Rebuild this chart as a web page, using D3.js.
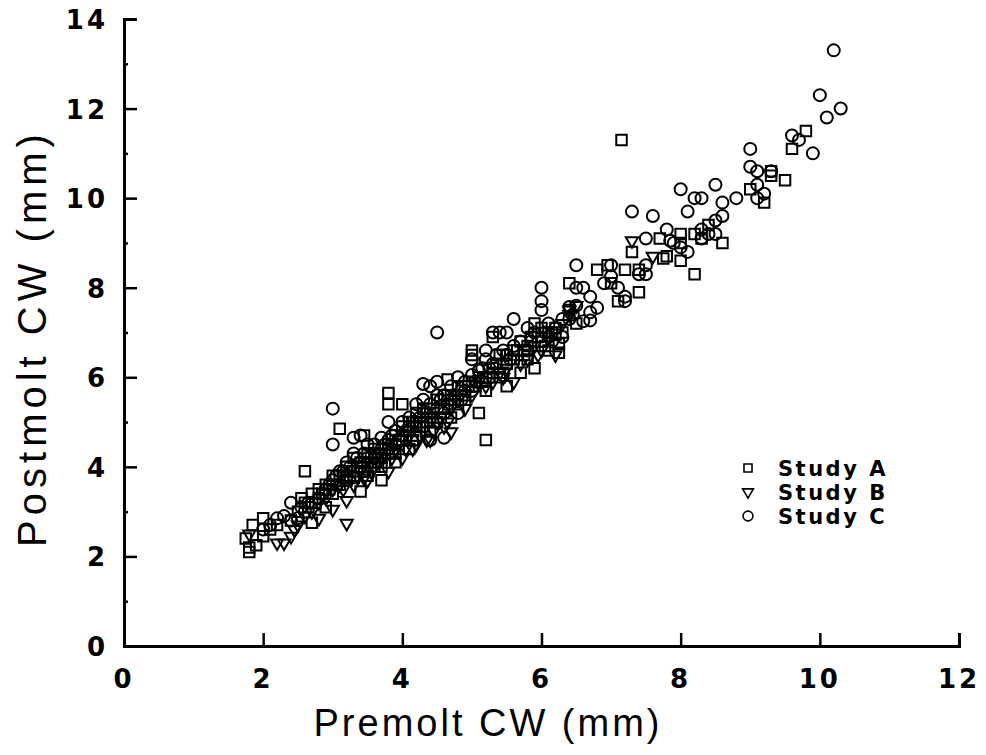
<!DOCTYPE html>
<html>
<head>
<meta charset="utf-8">
<script src="https://cdn.jsdelivr.net/npm/d3@7"></script>
<style>
  body { margin: 0; background: #fff; }
  svg text { font-family: "Liberation Sans", Arial, sans-serif; fill: #000; }
  svg text.bold { font-family: "DejaVu Sans", sans-serif; font-weight: bold; }
</style>
</head>
<body>
<svg id="chart" width="986" height="755"></svg>
<script>
// premolt / postmolt carapace width
var studyA = [[1.8,2.1],[1.8,2.2],[1.75,2.4],[1.85,2.7],[1.9,2.25],[2.0,2.45],[2.0,2.85],[2.1,2.6],[2.2,2.7],[2.4,2.8],
  [2.5,3.0],[2.6,3.9],[2.6,3.2],[2.7,2.75],[2.7,3.4],[2.8,3.3],[2.8,3.5],[2.9,3.1],[2.9,3.6],[3.0,3.4],[3.0,3.8],[3.1,4.85],
  [3.1,3.6],[3.2,4.0],[3.2,3.7],[3.3,4.2],[3.3,3.9],[3.4,3.45],[3.4,4.1],[3.45,4.7],[3.5,3.8],[3.5,4.3],[3.6,4.0],[3.6,4.4],
  [3.7,3.7],[3.7,4.2],[3.8,5.65],[3.8,5.4],[3.8,4.5],[3.9,4.3],[3.9,4.7],[4.0,5.4],[4.0,4.6],[4.0,4.9],[4.1,4.4],[4.1,5.0],
  [4.2,4.7],[4.2,5.2],[4.3,4.9],[4.3,5.3],[4.4,5.1],[4.4,4.8],[4.5,5.5],[4.5,5.0],[4.6,5.3],[4.65,5.95],[4.7,5.6],[4.7,5.1],
  [4.8,5.4],[4.8,5.8],[4.9,5.6],[5.0,6.6],[5.0,6.5],[5.0,5.9],[5.1,5.2],[5.1,6.0],[5.2,4.6],[5.2,5.7],[5.3,6.9],[5.3,6.2],
  [5.4,6.0],[5.4,6.5],[5.5,6.3],[5.5,5.8],[5.6,6.6],[5.7,6.1],[5.7,6.8],[5.8,6.4],[5.9,7.2],[5.9,6.2],[6.0,6.8],[6.0,7.1],
  [6.1,6.6],[6.2,7.1],[6.2,6.95],[6.25,6.75],[6.25,6.55],[6.4,8.1],[6.4,7.5],[6.5,7.2],[6.8,8.4],[6.95,8.5],[7.0,8.1],
  [7.1,7.7],[7.15,11.3],[7.2,8.4],[7.3,8.8],[7.4,7.9],[7.4,8.4],[7.7,9.1],[7.75,8.65],[7.8,8.7],[8.0,9.2],[8.0,9.0],[8.0,8.6],
  [8.2,9.2],[8.2,8.3],[8.4,9.4],[8.3,9.1],[8.6,9.0],[9.0,10.2],[9.2,9.9],[9.3,10.5],[9.3,10.6],[9.5,10.4],[9.6,11.1],[9.8,11.5],
  [3.1,3.8],[3.2,3.9],[3.3,3.75],[3.4,4.0],[3.5,4.1],[3.6,4.3],[3.7,4.0],[3.75,4.4],[3.85,4.5],[3.9,4.1],[4.05,4.7],[4.15,4.6],
  [4.25,4.9],[4.35,5.0],[4.45,5.2],[4.55,5.1],[4.9,5.5],[5.05,5.8],[5.25,6.0],[5.35,6.3],[5.45,6.1],[5.6,6.4],[5.75,6.5],
  [5.85,6.9],[6.05,6.7],[6.15,7.0],
  [2.55,3.3],[2.65,3.1],[2.75,3.2],[2.85,3.4],[2.95,3.5],[3.05,3.6],[3.15,3.75],[3.25,3.8],[3.35,4.0],[3.45,3.9],[3.55,4.2],
  [3.65,4.1],[3.8,4.3],[3.95,4.6],[4.1,4.8],[4.2,4.9],[4.3,5.0],[4.4,5.3],[4.6,5.6],[4.75,5.5],[4.85,5.7],[4.95,5.8],[5.15,5.9],
  [5.3,6.1],[5.5,6.5],[5.65,6.6],[5.8,6.7],[5.95,6.9],[6.1,7.0],[6.3,7.0]];

var studyB = [[1.8,2.5],[2.2,2.3],[2.3,2.3],[2.4,2.45],[2.5,2.7],[2.6,2.9],[2.8,2.85],[2.8,3.2],[3.0,3.05],[3.0,3.5],
  [3.2,3.25],[3.2,2.74],[3.3,3.6],[3.4,3.9],[3.5,3.7],[3.6,4.0],[3.7,4.2],[3.8,3.9],[3.9,4.4],[4.0,4.2],[4.1,4.7],[4.2,4.5],
  [4.3,4.8],[4.4,4.6],[4.5,5.0],[4.6,4.9],[4.7,4.78],[4.7,5.3],[4.8,5.5],[5.0,5.6],[5.1,5.9],[5.3,5.9],[5.5,6.2],[5.6,5.9],
  [5.8,6.4],[5.9,6.7],[6.1,6.9],[6.2,6.5],[6.4,7.4],[6.4,7.5],[6.5,7.6],[7.3,9.05],[7.6,8.7],
  [3.1,3.6],[3.35,3.8],[3.55,3.9],[3.65,4.1],[3.75,4.3],[3.95,4.5],[4.15,4.4],[4.25,4.7],[4.45,4.8],[4.55,5.1],[5.4,6.1],
  [5.7,6.3],[6.0,6.6],
  [2.45,2.6],[2.7,3.0],[2.9,3.3],[3.15,3.5],[3.45,3.75],[3.85,4.2],[4.05,4.4],[4.35,4.6],[4.65,5.0],[4.9,5.3],[5.2,5.8],
  [5.45,6.0],[5.95,6.5],[6.3,7.2]];

var studyC = [[2.0,2.6],[2.1,2.7],[2.2,2.85],[2.3,2.9],[2.4,2.8],[2.4,3.2],[2.5,2.85],[2.6,3.0],[2.7,3.2],[2.8,3.3],
  [2.9,3.5],[3.0,5.3],[3.0,4.5],[3.0,3.7],[3.1,3.9],[3.2,4.1],[3.3,4.65],[3.3,4.3],[3.4,4.7],[3.4,4.0],[3.5,4.5],[3.6,4.2],
  [3.7,4.65],[3.7,4.4],[3.8,5.0],[3.8,4.6],[3.9,4.8],[4.0,5.0],[4.1,5.1],[4.2,5.4],[4.3,5.85],[4.3,5.5],[4.4,5.8],[4.4,4.6],
  [4.5,7.0],[4.5,5.9],[4.5,5.3],[4.6,4.65],[4.6,5.6],[4.7,5.8],[4.8,6.0],[4.8,5.2],[4.9,5.7],[5.0,6.05],[5.0,6.4],[5.1,6.15],
  [5.2,6.6],[5.2,6.4],[5.3,7.0],[5.3,6.3],[5.4,7.0],[5.5,7.0],[5.5,6.5],[5.6,7.3],[5.6,6.7],[5.8,7.1],[5.8,6.6],[6.0,8.0],
  [6.0,7.7],[6.0,7.5],[6.1,7.2],[6.1,6.9],[6.3,6.9],[6.4,7.57],[6.4,7.3],[6.45,7.4],[6.5,8.5],[6.5,8.0],[6.5,7.6],[6.6,8.0],
  [6.6,7.25],[6.7,7.8],[6.7,7.45],[6.7,7.27],[6.8,7.55],[6.9,8.1],[7.0,8.5],[7.0,8.25],[7.1,8.0],[7.2,7.8],[7.2,7.7],[7.3,9.7],
  [7.4,8.3],[7.5,8.3],[7.5,9.1],[7.5,8.5],[7.6,9.6],[7.8,9.3],[7.85,9.05],[7.9,9.0],[8.0,10.2],[8.0,8.9],[8.1,9.7],[8.1,8.8],
  [8.2,10.0],[8.3,10.0],[8.3,9.3],[8.3,9.1],[8.4,9.2],[8.5,10.3],[8.5,9.5],[8.5,9.2],[8.6,9.9],[8.6,9.6],[8.8,10.0],[9.0,11.1],
  [9.0,10.7],[9.1,10.6],[9.1,10.3],[9.1,10.0],[9.2,10.1],[9.3,10.6],[9.6,11.4],[9.7,11.3],[9.9,11.0],[10.0,12.3],[10.1,11.8],
  [10.2,13.3],[10.3,12.0],
  [3.15,3.9],[3.25,4.0],[3.35,4.2],[3.45,4.3],[3.55,4.0],[3.65,4.3],[3.75,4.5],[3.85,4.7],[3.95,4.6],[4.05,4.8],[4.15,5.0],
  [4.25,5.1],[4.35,5.2],[4.55,5.5],[4.65,5.4],[4.75,5.6],[4.85,5.5],[5.05,5.9],[5.15,6.2],[5.25,6.2],[5.45,6.6],[5.7,6.8],
  [5.9,7.0],[6.2,7.1],
  [2.55,3.1],[2.65,3.2],[2.85,3.4],[2.95,3.6],[3.05,3.8],[3.2,3.8],[3.4,4.1],[3.5,4.2],[3.6,4.5],[3.8,4.4],[3.9,4.5],[4.0,4.7],
  [4.1,4.9],[4.2,5.0],[4.4,5.4],[4.5,5.6],[4.6,5.2],[4.7,5.5],[4.9,5.9],[5.0,5.7],[5.2,6.0],[5.35,6.5],[5.55,6.4],[5.75,6.6],
  [5.85,6.8],[6.05,7.0],[6.15,6.8],[6.3,7.3]];

var xTicks = [0, 2, 4, 6, 8, 10, 12];
var yTicks = [0, 2, 4, 6, 8, 10, 12, 14];
var yMinor = [1, 3, 5, 7, 9, 11, 13];
var legendLabels = ["Study A", "Study B", "Study C"];

var svg = d3.select("#chart");
var x = d3.scaleLinear().domain([0, 12]).range([124, 959]);
var y = d3.scaleLinear().domain([0, 14]).range([646, 19]);

// axes: ticks point inward
svg.append("g").attr("transform", "translate(0,646)")
  .call(d3.axisTop(x).tickValues(xTicks).tickSize(13).tickFormat(""));
svg.append("g").attr("transform", "translate(124,0)")
  .call(d3.axisRight(y).tickValues(yTicks).tickSize(13).tickFormat(""));
svg.append("g").attr("transform", "translate(124,0)")
  .call(d3.axisRight(y).tickValues(yMinor).tickSize(4).tickFormat(""))
  .select(".domain").remove();
svg.selectAll(".domain").attr("stroke", "#000").attr("stroke-width", 3);
svg.selectAll(".tick line").attr("stroke", "#000").attr("stroke-width", 2.5);

svg.append("g").selectAll("text").data(xTicks).enter().append("text").attr("class", "bold")
  .attr("x", function(d) { return x(d); }).attr("y", 688)
  .attr("text-anchor", "middle")
  .style("font-size", "26px").style("letter-spacing", "3px")
  .text(function(d) { return d; });
svg.append("g").selectAll("text").data(yTicks).enter().append("text").attr("class", "bold")
  .attr("x", 108).attr("y", function(d) { return y(d) + 10; })
  .attr("text-anchor", "end")
  .style("font-size", "26px").style("letter-spacing", "3px")
  .text(function(d) { return d; });

svg.append("text").attr("x", 488).attr("y", 736).attr("text-anchor", "middle")
  .style("font-size", "38px").style("letter-spacing", "3px").text("Premolt CW (mm)");
svg.append("text").attr("transform", "translate(46,338) rotate(-90)").attr("text-anchor", "middle")
  .style("font-size", "40px").style("letter-spacing", "5px").text("Postmolt CW (mm)");

// markers
var sq = d3.symbol().type(d3.symbolSquare).size(110);
var tri = d3.symbol().type(d3.symbolTriangle).size(66);
var marks = svg.append("g").attr("fill", "none").attr("stroke", "#000").attr("stroke-width", 2);

marks.selectAll("path.a").data(studyA).enter().append("path").attr("class", "a")
  .attr("d", sq).attr("transform", function(d) { return "translate(" + x(d[0]) + "," + y(d[1]) + ")"; });
marks.selectAll("path.b").data(studyB).enter().append("path").attr("class", "b")
  .attr("d", tri).attr("transform", function(d) { return "translate(" + x(d[0]) + "," + y(d[1]) + ") rotate(180)"; });
marks.selectAll("circle.c").data(studyC).enter().append("circle").attr("class", "c")
  .attr("r", 6).attr("cx", function(d) { return x(d[0]); }).attr("cy", function(d) { return y(d[1]); });

// legend
var rows = svg.append("g").selectAll("g").data(legendLabels).enter().append("g")
  .attr("transform", function(d, i) { return "translate(748," + (468 + i * 24) + ")"; });
rows.append("path").attr("fill", "none").attr("stroke", "#000").attr("stroke-width", 1.6)
  .attr("d", function(d, i) {
    if (i == 0) return d3.symbol().type(d3.symbolSquare).size(64)();
    if (i == 1) return d3.symbol().type(d3.symbolTriangle).size(50)();
    return d3.symbol().type(d3.symbolCircle).size(75)();
  })
  .attr("transform", function(d, i) { return i == 1 ? "rotate(180)" : null; });
rows.append("text").attr("class", "bold").attr("x", 30).attr("y", 8)
  .style("font-size", "21px").style("letter-spacing", "2.5px")
  .text(function(d) { return d; });
</script>
</body>
</html>
